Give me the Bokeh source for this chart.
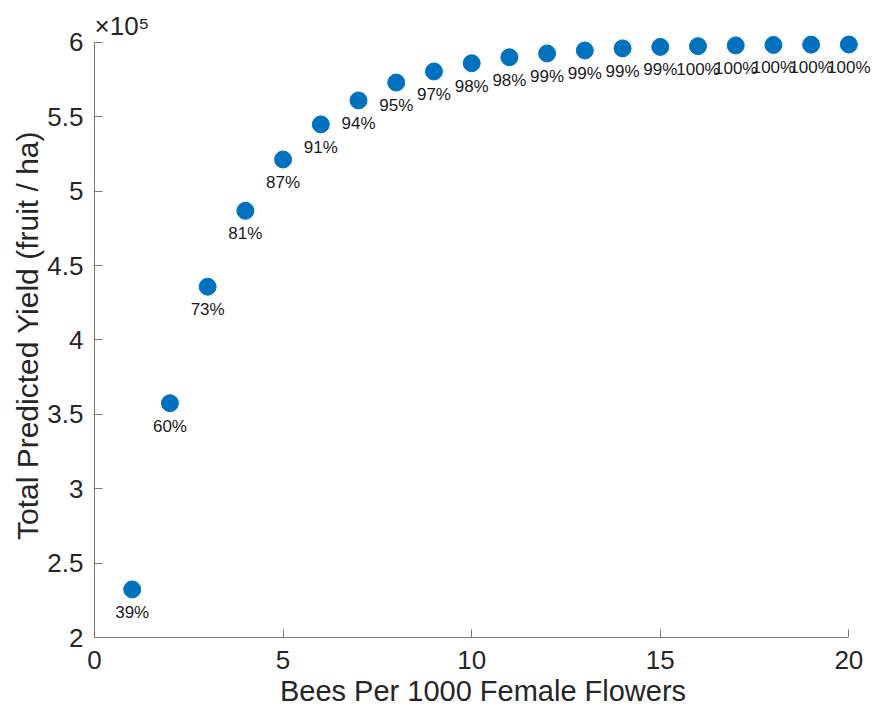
from bokeh.plotting import figure
from bokeh.models import Range1d, FixedTicker, ColumnDataSource, Title
from bokeh.core.properties import value
from bokeh.embed import file_html
from bokeh.resources import INLINE

bees = list(range(1, 21))
yield_vals = [232300, 357500, 435800, 486800, 521300, 544900, 561000, 573000,
              580500, 586000, 590000, 592600, 594600, 596000, 597000, 597500,
              598000, 598300, 598500, 598600]
pct_labels = ["39%", "60%", "73%", "81%", "87%", "91%", "94%", "95%", "97%", "98%",
              "98%", "99%", "99%", "99%", "99%", "100%", "100%", "100%", "100%", "100%"]
y_ticks = [200000, 250000, 300000, 350000, 400000, 450000, 500000, 550000, 600000]
y_tick_labels = ["2", "2.5", "3", "3.5", "4", "4.5", "5", "5.5", "6"]
x_ticks = [0, 5, 10, 15, 20]
x_title = "Bees Per 1000 Female Flowers"
y_title = "Total Predicted Yield (fruit / ha)"
exponent_text = "×10⁵"

FONT = "Liberation Sans"
AX = "#7a7a7a"
TXT = "#262626"

# frame extends a little past the axis ends so edge markers/labels are not clipped
p = figure(width=873, height=710, output_backend="svg", toolbar_location=None,
           x_range=Range1d(0, 20.6), y_range=Range1d(200000, 606000),
           min_border_left=94, min_border_right=2, min_border_top=33, min_border_bottom=73)
p.outline_line_color = None
p.grid.visible = False

p.add_layout(Title(text=exponent_text, align="left", text_font=FONT,
                   text_font_size="26px", text_font_style="normal",
                   text_color=TXT, standoff=-14, offset=0), "above")

src = ColumnDataSource(dict(x=bees, y=yield_vals, t=pct_labels))
p.scatter("x", "y", source=src, size=17, fill_color="#0072BD", line_color="#0072BD")
p.text("x", "y", text="t", source=src, y_offset=23, text_align="center",
       text_baseline="middle", text_font=value(FONT), text_font_size="17px",
       text_color="#1a1a1a")

for ax in (p.xaxis[0], p.yaxis[0]):
    ax.axis_line_color = AX
    ax.major_tick_line_color = AX
    ax.minor_tick_line_color = None
    ax.major_tick_in = 8
    ax.major_tick_out = 0
    ax.major_label_text_font = FONT
    ax.major_label_text_font_size = "26px"
    ax.major_label_text_color = TXT
    ax.axis_label_text_font = FONT
    ax.axis_label_text_font_style = "normal"
    ax.axis_label_text_color = TXT

p.xaxis.bounds = (0, 20)
p.yaxis.bounds = (200000, 600000)
p.xaxis.ticker = FixedTicker(ticks=x_ticks)
p.yaxis.ticker = FixedTicker(ticks=y_ticks)
p.yaxis.major_label_overrides = {t: l for t, l in zip(y_ticks, y_tick_labels)}
p.xaxis.axis_label = x_title
p.yaxis.axis_label = y_title
p.xaxis.axis_label_text_font_size = "29px"
p.yaxis.axis_label_text_font_size = "30px"
p.xaxis.major_label_standoff = 13
p.yaxis.major_label_standoff = 11
p.xaxis.axis_label_standoff = 3
p.yaxis.axis_label_standoff = 0

open("out.html", "w").write(file_html(p, INLINE))
